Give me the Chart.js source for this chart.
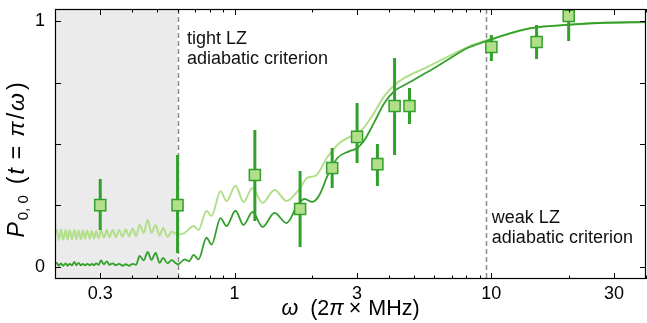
<!DOCTYPE html>
<html><head><meta charset="utf-8">
<script src="https://cdn.jsdelivr.net/npm/chart.js@4"></script>
<style>html,body{margin:0;padding:0;background:#fff}canvas{display:block}</style>
</head><body>
<canvas id="c" width="647" height="323"></canvas>
<script>
// ---- data ----
const xTickValues = [0.3, 1, 3, 10, 30];
const xTickLabels = ['0.3', '1', '3', '10', '30'];
const xMinorTicks = [0.2, 0.4, 0.5, 0.6, 0.7, 0.8, 0.9, 2, 4, 5, 6, 7, 8, 9, 20, 40];
const yTickValues = [0, 1];
const yTickLabels = ['0', '1'];
const yMinorTicks = [0.25, 0.5, 0.75];

const omegaData = [0.3, 0.6, 1.2, 1.8, 2.4, 3.0, 3.6, 4.2, 4.8, 10, 15, 20];
const probData  = [0.251, 0.251, 0.374, 0.235, 0.402, 0.529, 0.418, 0.655, 0.655, 0.895, 0.916, 1.022];
const probLow   = [0.150, 0.056, 0.186, 0.080, 0.321, 0.423, 0.329, 0.455, 0.581, 0.838, 0.846, 0.920];
const probHigh  = [0.357, 0.455, 0.557, 0.390, 0.484, 0.667, 0.500, 0.850, 0.728, 0.944, 0.985, 1.124];

const tightLZ = 0.6;
const weakLZ = 9.56;

const curveLight = [
[0.200,0.128],[0.203,0.152],[0.207,0.110],[0.211,0.152],[0.215,0.110],[0.220,0.150],[0.224,0.110],[0.228,0.150],
[0.233,0.112],[0.238,0.150],[0.242,0.112],[0.247,0.148],[0.252,0.112],[0.257,0.148],[0.262,0.114],[0.267,0.148],
[0.273,0.114],[0.278,0.146],[0.284,0.114],[0.289,0.146],[0.296,0.116],[0.302,0.150],[0.310,0.118],[0.318,0.150],
[0.326,0.120],[0.335,0.150],[0.345,0.120],[0.355,0.150],[0.367,0.122],[0.377,0.152],[0.389,0.124],[0.401,0.156],
[0.414,0.124],[0.427,0.170],[0.443,0.138],[0.459,0.190],[0.475,0.138],[0.493,0.170],[0.511,0.126],[0.527,0.158],
[0.549,0.122],[0.569,0.142],[0.600,0.132],[0.635,0.136],[0.693,0.166],[0.724,0.150],[0.778,0.228],[0.814,0.207],
[0.882,0.308],[0.931,0.268],[1.009,0.330],[1.084,0.264],[1.175,0.321],[1.285,0.260],[1.431,0.313],[1.594,0.268],
[1.790,0.317],[1.923,0.363],[2.066,0.370],[2.301,0.447],[2.563,0.504],[2.803,0.528],[3.010,0.544],[3.177,0.565],
[3.413,0.610],[3.834,0.696],[4.194,0.740],[4.586,0.769],[5.636,0.814],[6.744,0.855],[8.067,0.895],[9.561,0.923],
[11.23,0.944],[14.44,0.973],[19.58,0.985],[26.32,0.993],[40.0,0.997]
];
const curveDark = [
[0.200,0.008],[0.203,0.016],[0.207,0.004],[0.211,0.014],[0.215,0.004],[0.220,0.014],[0.224,0.004],[0.228,0.012],
[0.233,0.006],[0.238,0.020],[0.242,0.006],[0.247,0.016],[0.252,0.006],[0.257,0.012],[0.262,0.006],[0.267,0.012],
[0.273,0.006],[0.278,0.012],[0.284,0.006],[0.289,0.014],[0.296,0.008],[0.302,0.026],[0.310,0.010],[0.318,0.022],
[0.326,0.008],[0.335,0.014],[0.345,0.006],[0.355,0.012],[0.367,0.004],[0.377,0.010],[0.389,0.004],[0.401,0.012],
[0.414,0.008],[0.427,0.044],[0.443,0.026],[0.459,0.060],[0.475,0.028],[0.493,0.056],[0.511,0.016],[0.527,0.036],
[0.549,0.014],[0.569,0.027],[0.600,0.010],[0.612,0.014],[0.640,0.030],[0.665,0.022],[0.693,0.048],[0.724,0.030],
[0.778,0.118],[0.814,0.090],[0.882,0.198],[0.931,0.166],[1.009,0.228],[1.084,0.170],[1.175,0.223],[1.285,0.162],
[1.431,0.219],[1.594,0.178],[1.759,0.251],[1.873,0.276],[2.011,0.264],[2.141,0.292],[2.301,0.370],[2.516,0.443],
[2.803,0.471],[3.010,0.484],[3.206,0.516],[3.506,0.590],[3.834,0.667],[4.194,0.716],[4.586,0.740],[5.636,0.793],
[6.744,0.842],[8.067,0.891],[9.561,0.919],[11.23,0.944],[14.44,0.973],[19.58,0.985],[26.32,0.993],[40.0,0.997]
];

// ---- styles ----
const FONT = '"Liberation Sans", Arial, sans-serif';
const LIGHT = '#b2df8a';
const DARK = '#33a02c';

const errData = [];
omegaData.forEach((x, i) => {
  errData.push({x: x, y: probLow[i]}, {x: x, y: probHigh[i]}, {x: x, y: null});
});
const pts = omegaData.map((x, i) => ({x: x, y: probData[i]}));

function drawRich(ctx, segs, size) {
  let total = 0;
  const ws = segs.map(s => {
    ctx.font = (s.it ? 'italic ' : '') + (s.sz || size) + 'px ' + FONT;
    const w = ctx.measureText(s.t).width;
    total += w + (s.gap || 0);
    return w;
  });
  let x = -total / 2;
  ctx.textAlign = 'left';
  ctx.textBaseline = 'alphabetic';
  segs.forEach((s, i) => {
    ctx.font = (s.it ? 'italic ' : '') + (s.sz || size) + 'px ' + FONT;
    ctx.fillText(s.t, x, s.dy || 0);
    x += ws[i] + (s.gap || 0);
  });
}

function noPad(s) {
  s.paddingTop = 0; s.paddingBottom = 0; s.paddingLeft = 0; s.paddingRight = 0;
}

const decor = {
  id: 'decor',
  beforeDatasetsDraw(chart) {
    const {ctx, chartArea: a, scales: {x}} = chart;
    ctx.save();
    const xs = x.getPixelForValue(tightLZ);
    ctx.fillStyle = '#ebebeb';
    ctx.fillRect(a.left, a.top, xs - a.left, a.bottom - a.top);
    ctx.strokeStyle = '#8a8a8a';
    ctx.lineWidth = 1.5;
    ctx.setLineDash([5, 3]);
    [tightLZ, weakLZ].forEach(v => {
      const px = Math.round(x.getPixelForValue(v)) + 0.5;
      ctx.beginPath(); ctx.moveTo(px, a.top); ctx.lineTo(px, a.bottom); ctx.stroke();
    });
    ctx.restore();
  },
  afterDatasetsDraw(chart) {
    const {ctx, chartArea: a, scales: {x, y}} = chart;
    ctx.save();
    ctx.strokeStyle = '#000';
    ctx.lineWidth = 1;
    const tick = (v, len, axis) => {
      ctx.beginPath();
      if (axis === 'x') {
        const px = Math.round(x.getPixelForValue(v)) + 0.5;
        ctx.moveTo(px, a.bottom); ctx.lineTo(px, a.bottom - len);
        ctx.moveTo(px, a.top); ctx.lineTo(px, a.top + len);
      } else {
        const py = Math.round(y.getPixelForValue(v)) + 0.5;
        ctx.moveTo(a.left, py); ctx.lineTo(a.left + len, py);
        ctx.moveTo(a.right, py); ctx.lineTo(a.right - len, py);
      }
      ctx.stroke();
    };
    xTickValues.forEach(v => tick(v, 6, 'x'));
    xMinorTicks.forEach(v => tick(v, 3.5, 'x'));
    yTickValues.forEach(v => tick(v, 6, 'y'));
    yMinorTicks.forEach(v => tick(v, 6, 'y'));
    ctx.lineWidth = 1.2;
    ctx.strokeRect(a.left + 0.5, a.top + 0.5, a.right - a.left - 1, a.bottom - a.top - 1);
    // annotations
    ctx.fillStyle = '#111';
    ctx.font = '18px ' + FONT;
    ctx.textAlign = 'left';
    ctx.textBaseline = 'alphabetic';
    const tx = x.getPixelForValue(tightLZ) + 9.5;
    ctx.fillText('tight LZ', tx, a.top + 35);
    ctx.fillText('adiabatic criterion', tx, a.top + 54.5);
    const wx = x.getPixelForValue(weakLZ) + 5.5;
    ctx.fillText('weak LZ', wx, a.top + 213.5);
    ctx.fillText('adiabatic criterion', wx, a.top + 233.5);
    // x title
    ctx.fillStyle = '#000';
    ctx.save();
    ctx.translate((a.left + a.right) / 2, 315);
    drawRich(ctx, [
      {t: 'ω', it: true, gap: 12},
      {t: '(2'},
      {t: 'π', it: true, gap: 5},
      {t: '×', gap: 7},
      {t: 'MHz)'}
    ], 21.5);
    ctx.restore();
    // y title
    ctx.save();
    ctx.translate(24, 160);
    ctx.rotate(-Math.PI / 2);
    drawRich(ctx, [
      {t: 'P', it: true, gap: 2},
      {t: '0, 0', sz: 15, dy: 4, gap: 11},
      {t: '(', gap: 2},
      {t: 't', it: true, gap: 9},
      {t: '=', gap: 9},
      {t: 'π', it: true, gap: 2},
      {t: '/', gap: 2},
      {t: 'ω', it: true, gap: 3},
      {t: ')'}
    ], 23);
    ctx.restore();
    ctx.restore();
  }
};

new Chart(document.getElementById('c'), {
  type: 'scatter',
  data: {
    datasets: [
      {label: 'light', data: curveLight.map(p => ({x: p[0], y: p[1]})), showLine: true,
       borderColor: LIGHT, borderWidth: 2, pointRadius: 0, cubicInterpolationMode: 'monotone', order: 4},
      {label: 'dark', data: curveDark.map(p => ({x: p[0], y: p[1]})), showLine: true,
       borderColor: DARK, borderWidth: 1.8, pointRadius: 0, cubicInterpolationMode: 'monotone', order: 3},
      {label: 'err', data: errData, showLine: true, spanGaps: false, borderColor: DARK, borderWidth: 3,
       borderCapStyle: 'butt', pointRadius: 0, tension: 0, order: 2, clip: 0},
      {label: 'pts', data: pts, showLine: false, pointStyle: 'rect', pointRadius: 7.8,
       pointBackgroundColor: LIGHT, pointBorderColor: DARK, pointBorderWidth: 1.5, order: 1}
    ]
  },
  options: {
    responsive: false,
    animation: false,
    devicePixelRatio: 1,
    layout: {autoPadding: false, padding: {top: 9, right: 1, left: 0, bottom: 0}},
    plugins: {legend: {display: false}, tooltip: {enabled: false}},
    scales: {
      x: {
        type: 'logarithmic', min: 0.2, max: 40,
        grid: {display: false, drawTicks: false}, border: {display: false},
        afterBuildTicks: s => { s.ticks = xTickValues.map(v => ({value: v})); },
        afterFit: s => { s.height = 44; noPad(s); },
        ticks: {autoSkip: false, maxRotation: 0, padding: 4, color: '#000',
          font: {family: FONT, size: 18},
          callback: v => { const i = xTickValues.indexOf(v); return i >= 0 ? xTickLabels[i] : ''; }}
      },
      y: {
        type: 'linear', min: -0.05, max: 1.05,
        grid: {display: false, drawTicks: false}, border: {display: false},
        afterBuildTicks: s => { s.ticks = yTickValues.map(v => ({value: v})); },
        afterFit: s => { s.width = 55; noPad(s); },
        ticks: {padding: 10, color: '#000', font: {family: FONT, size: 18},
          callback: v => { const i = yTickValues.indexOf(v); return i >= 0 ? yTickLabels[i] : ''; }}
      }
    }
  },
  plugins: [decor]
});
</script>
</body></html>
